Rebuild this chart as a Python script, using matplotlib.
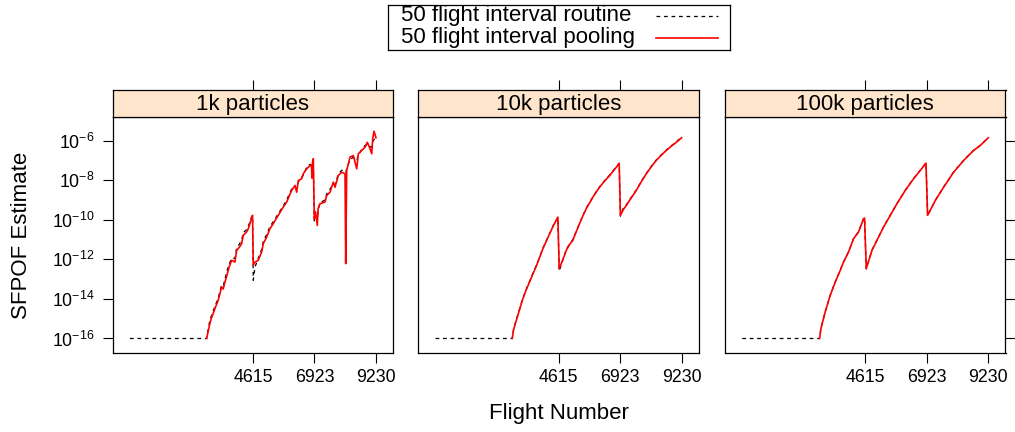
import numpy as np
import matplotlib
matplotlib.use('Agg')
import matplotlib.pyplot as plt
from matplotlib.ticker import FixedLocator, LogFormatterMathtext, NullLocator

plt.rcParams['font.family'] = ['Liberation Sans', 'DejaVu Sans']
plt.rcParams['mathtext.fontset'] = 'custom'
plt.rcParams['mathtext.rm'] = 'Liberation Sans'
plt.rcParams['mathtext.it'] = 'Liberation Sans:italic'
plt.rcParams['mathtext.bf'] = 'Liberation Sans:bold'

# Data (log10 of the SFPOF estimate)
panel_titles = ['1k particles', '10k particles', '100k particles']
series_labels = ['50 flight interval routine', '50 flight interval pooling']
x_ticks = [4615, 6923, 9230]
last_flight = 9230
y_tick_exps = [-16, -14, -12, -10, -8, -6]

flights_1k = [2877, 3001, 3060, 3125, 3200, 3312, 3440, 3500, 3564, 3639, 3720, 3815, 3939,
              4003, 4100, 4191, 4251, 4378, 4439, 4502, 4566, 4600, 4626, 4690, 4814, 4942,
              5002, 5129, 5253, 5377, 5565, 5752, 5880, 6068, 6192, 6255, 6316, 6443, 6503,
              6631, 6755, 6810, 6830, 6850, 6879, 6916, 6960, 7029, 7060, 7130, 7318, 7381,
              7506, 7630, 7693, 7817, 7945, 8069, 8094, 8132, 8256, 8380, 8508, 8568, 8696,
              8819, 8906, 9007, 9071, 9108, 9157, 9230]
pool_1k = [-16.0, -15.24, -14.95, -14.74, -14.45, -14.07, -13.40, -13.50, -13.15, -12.81, -12.40,
           -12.05, -12.14, -11.55, -11.40, -11.21, -10.79, -10.62, -10.46, -10.20, -9.90, -9.78,
           -12.30, -12.14, -12.05, -11.63, -11.21, -10.88, -10.45, -10.20, -9.78, -9.36, -9.11,
           -8.52, -8.27, -8.61, -8.02, -7.93, -7.68, -7.43, -7.26, -7.25, -7.90, -7.10, -6.92,
           -9.95, -9.60, -10.29, -9.44, -9.19, -9.11, -8.78, -8.61, -8.10, -8.36, -7.77, -7.60,
           -7.68, -12.22, -7.51, -6.84, -6.76, -7.43, -6.67, -6.50, -6.34, -6.09, -6.42, -6.67,
           -5.91, -5.53, -5.86]
routine_1k = [-16.0, -15.05, -14.85, -14.60, -14.35, -13.95, -13.30, -13.35, -13.00, -12.60, -12.25,
              -11.95, -11.95, -11.45, -11.25, -11.05, -10.65, -10.50, -10.35, -10.10, -9.85, -9.80,
              -13.06, -12.40, -11.95, -11.50, -11.10, -10.75, -10.35, -10.10, -9.70, -9.30, -9.00,
              -8.45, -8.35, -8.45, -8.10, -7.85, -7.75, -7.35, -7.20, -7.30, -7.30, -7.20, -7.00,
              -10.10, -9.70, -10.00, -9.50, -9.15, -9.00, -8.70, -8.45, -8.20, -8.25, -7.70, -7.50,
              -7.55, -7.60, -7.45, -6.95, -6.85, -7.00, -6.75, -6.45, -6.25, -6.20, -6.30, -6.35,
              -6.05, -5.95, -5.90]

flights_10k = [2877, 2930, 3027, 3150, 3275, 3400, 3526, 3650, 3778, 3900, 4026, 4150, 4277, 4420,
               4590, 4640, 4780, 4904, 5030, 5152, 5280, 5403, 5530, 5655, 5780, 5903, 6030, 6154,
               6340, 6530, 6660, 6781, 6890, 6935, 7040, 7156, 7340, 7532, 7720, 7907, 8090, 8283,
               8470, 8658, 8850, 9034, 9140, 9230]
pool_10k = [-16.0, -15.55, -15.10, -14.55, -14.00, -13.55, -13.15, -12.75, -12.35, -11.92, -11.47,
            -11.10, -10.72, -10.30, -9.87, -12.47, -12.00, -11.55, -11.25, -11.04, -10.60, -10.20,
            -9.80, -9.44, -9.15, -8.86, -8.60, -8.36, -8.05, -7.77, -7.55, -7.35, -7.15, -9.78,
            -9.50, -9.28, -8.90, -8.52, -8.08, -7.68, -7.33, -7.00, -6.74, -6.50, -6.28, -6.09,
            -5.97, -5.86]
routine_10k = [-16.0, -15.52, -15.06, -14.52, -13.97, -13.52, -13.12, -12.72, -12.32, -11.90, -11.44,
               -11.08, -10.70, -10.28, -9.88, -12.60, -12.02, -11.50, -11.22, -11.00, -10.58, -10.18,
               -9.78, -9.42, -9.13, -8.84, -8.58, -8.34, -8.03, -7.75, -7.53, -7.33, -7.16, -9.82,
               -9.42, -9.25, -8.88, -8.50, -8.06, -7.66, -7.31, -6.98, -6.72, -6.48, -6.26, -6.07,
               -5.93, -5.86]

flights_100k = [2900, 2952, 3113, 3301, 3489, 3677, 3800, 3988, 4176, 4363, 4551, 4589, 4653, 4866,
                5054, 5302, 5554, 5805, 6117, 6428, 6680, 6893, 6954, 7243, 7554, 7930, 8305, 8681,
                8932, 9230]
pool_100k = [-16.0, -15.50, -14.66, -13.82, -13.15, -12.56, -12.14, -11.63, -10.96, -10.62, -9.95,
             -9.92, -12.47, -11.55, -11.04, -10.37, -9.78, -9.19, -8.52, -7.93, -7.51, -7.14, -9.78,
             -9.03, -8.36, -7.60, -7.01, -6.50, -6.25, -5.86]
routine_100k = [-16.0, -15.49, -14.65, -13.81, -13.14, -12.55, -12.13, -11.62, -10.95, -10.61, -9.94,
                -9.92, -12.48, -11.54, -11.03, -10.36, -9.77, -9.18, -8.51, -7.92, -7.50, -7.14, -9.79,
                -9.02, -8.35, -7.59, -7.00, -6.49, -6.24, -5.86]

flat_start = 0   # routine series sits at the floor from flight 0

panels = [
    (flights_1k, routine_1k, pool_1k),
    (flights_10k, routine_10k, pool_10k),
    (flights_100k, routine_100k, pool_100k),
]

# lattice style 7% padding of the data range
all_exp = pool_1k + routine_1k + pool_10k + routine_10k + pool_100k + routine_100k
lo, hi = min(all_exp), max(all_exp)
ypad = 0.07 * (hi - lo)
xpad = 0.07 * (last_flight - flat_start)

fig = plt.figure(figsize=(10.15, 4.32), dpi=100)
W, H = 1015.0, 432.0
lefts = [112.7, 418.3, 725.0]
pw = 280.5
p_bottom, p_top, s_top = 353.0, 116.7, 90.0

dash = (0, (3, 3))
for i, (fl, rt, pl) in enumerate(panels):
    ax = fig.add_axes([lefts[i] / W, 1 - p_bottom / H, pw / W, (p_bottom - p_top) / H])
    rx = [flat_start] + fl
    ry = [rt[0]] + rt
    ax.plot(rx, 10.0 ** np.array(ry), color='black', ls=dash, lw=0.9)
    ax.plot(fl, 10.0 ** np.array(pl), color='red', lw=1.2)
    ax.set_yscale('log')
    ax.set_xlim(flat_start - xpad, last_flight + xpad)
    ax.set_ylim(10.0 ** (lo - ypad), 10.0 ** (hi + ypad))
    ax.xaxis.set_major_locator(FixedLocator(x_ticks))
    ax.yaxis.set_major_locator(FixedLocator([10.0 ** e for e in y_tick_exps]))
    ax.yaxis.set_minor_locator(NullLocator())
    ax.yaxis.set_major_formatter(LogFormatterMathtext())
    ax.tick_params(axis='x', direction='out', length=7.2, width=0.8, labelsize=12.8, pad=4,
                   top=False, bottom=True)
    ax.tick_params(axis='y', direction='out', length=7.2, width=0.8, labelsize=12.8, pad=6,
                   left=(i == 0), labelleft=(i == 0), right=(i == 2), labelright=False)
    for sp in ax.spines.values():
        sp.set_linewidth(0.9)

    # strip on top of the panel
    st = fig.add_axes([lefts[i] / W, 1 - p_top / H, pw / W, (p_top - s_top) / H], sharex=ax)
    st.set_facecolor('#ffe5cc')
    st.set_yticks([])
    st.tick_params(axis='x', direction='out', length=7.2, width=0.8, top=True, bottom=False,
                   labeltop=False, labelbottom=False)
    for sp in st.spines.values():
        sp.set_linewidth(0.9)
    st.text(0.5, 0.45, panel_titles[i], transform=st.transAxes, ha='center', va='center', fontsize=16)

fig.text(22 / W, 1 - 235 / H, 'SFPOF Estimate', rotation=90, ha='center', va='center', fontsize=16)
fig.text(559 / W, 1 - 414 / H, 'Flight Number', ha='center', va='center', fontsize=16)

# key box on top, lattice style: text left, line sample right
lg = fig.add_axes([388 / W, 1 - 50 / H, 342 / W, 45 / H])
lg.set_xlim(0, 342)
lg.set_ylim(45, 0)
lg.set_xticks([])
lg.set_yticks([])
for sp in lg.spines.values():
    sp.set_linewidth(0.9)
row_y = [11, 33]
lg.text(13, row_y[0], series_labels[0], ha='left', va='center', fontsize=16)
lg.text(13, row_y[1], series_labels[1], ha='left', va='center', fontsize=16)
lg.plot([268, 330], [row_y[0], row_y[0]], color='black', ls=dash, lw=0.9)
lg.plot([268, 330], [row_y[1], row_y[1]], color='red', lw=1.2)

fig.savefig('out.png', dpi=100)
